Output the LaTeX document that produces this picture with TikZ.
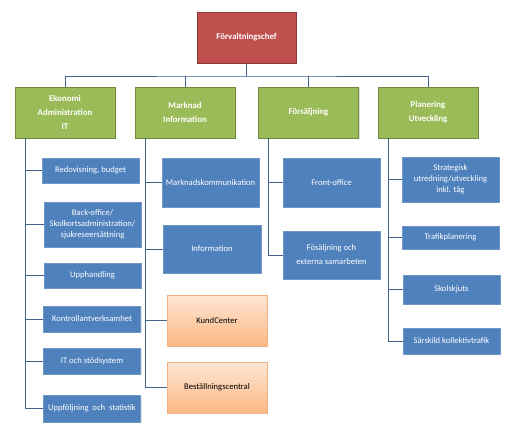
\documentclass[tikz,border=0pt]{standalone}
\usepackage{fontspec}
\setmainfont{Carlito}
\usepackage{tikz}
\usetikzlibrary{arrows.meta}
\usetikzlibrary{shadows}
\definecolor{chefred}{HTML}{C0504D}
\definecolor{chefedge}{HTML}{8C3836}
\definecolor{areagreen}{HTML}{9BBB59}
\definecolor{areaedge}{HTML}{71893F}
\definecolor{unitblue}{HTML}{4F81BD}
\definecolor{unitedge}{HTML}{6F97C8}
\definecolor{ctrtop}{HTML}{FFE6D4}
\definecolor{ctrbot}{HTML}{FBB883}
\definecolor{ctredge}{HTML}{F2B183}
\definecolor{linecol}{HTML}{41618C}

\begin{document}
\begin{tikzpicture}[x=1pt,y=-1pt]
\tikzstyle{every node}=[font=\fontsize{8.6}{11}\selectfont, align=center, inner sep=0.5pt]
\tikzstyle{chefbox}=[draw=chefedge, line width=1pt, fill=chefred, text=white, font=\fontsize{8.8}{11}\selectfont\bfseries, minimum width=99pt, minimum height=51pt, drop shadow={shadow xshift=1pt, shadow yshift=-1pt, opacity=0.25}]
\tikzstyle{areabox}=[draw=areaedge, line width=1pt, fill=areagreen, text=white, font=\fontsize{8.8}{14}\selectfont\bfseries, minimum width=100pt, minimum height=51pt, drop shadow={shadow xshift=1pt, shadow yshift=-1pt, opacity=0.25}]
\tikzstyle{unitbox}=[draw=unitedge, line width=0.6pt, fill=unitblue, text=white, minimum width=97pt, drop shadow={shadow xshift=1pt, shadow yshift=-1pt, opacity=0.2}]
\tikzstyle{centerbox}=[draw=ctredge, line width=0.6pt, top color=ctrtop, bottom color=ctrbot, text=black, minimum width=100pt, minimum height=51pt, drop shadow={shadow xshift=1pt, shadow yshift=-1pt, opacity=0.2}]
\tikzstyle{orgline}=[draw=linecol, line width=1pt]
\useasboundingbox[fill=white] (0,0) rectangle (518,440);

% top
\node [chefbox] (chef) at (246.5,37.5) {Förvaltningschef};
\coordinate (bus) at (246.5,76);

% areas
\node [areabox] (eko) at (65,112.5) {Ekonomi\\Administration\\IT};
\node [areabox] (mark) at (185,112.5) {Marknad\\Information};
\node [areabox] (fors) at (308.5,112.5) {Försäljning};
\node [areabox] (plan) at (428,112.5) {Planering\\Utveckling};

% units Ekonomi
\node [unitbox, minimum height=25pt] (redo) at (90.5,170.5) {Redovisning, budget};
\node [unitbox, minimum height=45pt] (back) at (92.5,224.5) {Back-office/\\Skolkortsadministration/\\sjukreseersättning};
\node [unitbox, minimum height=25pt] (upph) at (92.5,275.5) {Upphandling};
\node [unitbox, minimum height=26pt] (kontr) at (92,319) {Kontrollantverksamhet};
\node [unitbox, minimum height=26pt] (itst) at (92,361) {IT och stödsystem};
\node [unitbox, minimum height=27pt] (uppf) at (92,408.5) {Uppföljning\ \ och\ \ statistik};

% units Marknad
\node [unitbox, minimum height=49pt] (mkom) at (210.5,182.5) {Marknadskommunikation};
\node [unitbox, minimum width=98pt, minimum height=48pt] (info) at (212,249) {Information};
\node [centerbox] (kund) at (217,320.5) {KundCenter};
\node [centerbox] (best) at (217,387.5) {Beställningscentral};

% units Försäljning
\node [unitbox, minimum height=49pt] (front) at (331.5,182.5) {Front-office};
\node [unitbox, minimum height=48pt, font=\fontsize{8.6}{14}\selectfont] (fsal) at (331.5,255) {Fösäljning och\\externa samarbeten};

% units Planering
\node [unitbox, minimum height=45pt] (strat) at (450.5,179.5) {Strategisk\\utredning/utveckling\\inkl. tåg};
\node [unitbox, minimum height=23pt] (trafik) at (450.5,237.5) {Trafikplanering};
\node [unitbox, minimum height=29pt] (skol) at (451.5,289.5) {Skolskjuts};
\node [unitbox, minimum height=26pt] (sars) at (451.5,341) {Särskild kollektivtrafik};

% lines top
\draw [orgline] (chef.south) -- (bus);
\draw [orgline] (eko.north) |- (bus) -| (plan.north);
\draw [orgline] (mark.north) -- (mark.north |- bus);
\draw [orgline] (fors.north) -- (fors.north |- bus);

% trunks
\coordinate (t1) at (25,138);
\coordinate (t2) at (145,138);
\coordinate (t3) at (268,138);
\coordinate (t4) at (388,138);
\draw [orgline] (t1) |- (uppf.west);
\draw [orgline] (t2) |- (best.west);
\draw [orgline] (t3) |- (fsal.west);
\draw [orgline] (t4) |- (sars.west);

% branches
\foreach \u in {redo,back,upph,kontr,itst}
  \draw [orgline] (\u.west) -- (\u.west -| t1);
\foreach \u in {mkom,info,kund}
  \draw [orgline] (\u.west) -- (\u.west -| t2);
\draw [orgline] (front.west) -- (front.west -| t3);
\foreach \u in {strat,trafik,skol}
  \draw [orgline] (\u.west) -- (\u.west -| t4);
\end{tikzpicture}
\end{document}
